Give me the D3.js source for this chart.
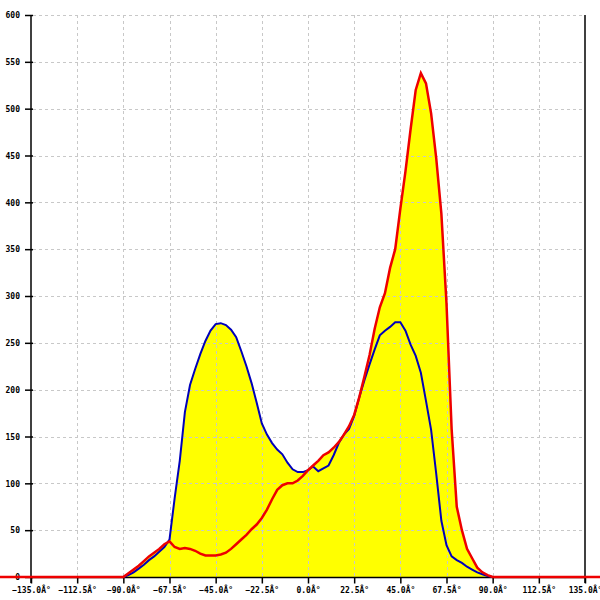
<!DOCTYPE html>
<html>
<head>
<meta charset="utf-8">
<script src="https://cdn.jsdelivr.net/npm/d3@7"></script>
<style>
  html, body { margin: 0; padding: 0; background: #fff; }
  svg { display: block; }
  text { font-family: "DejaVu Sans Mono", monospace; font-size: 8px; font-weight: bold; fill: #000; }
</style>
</head>
<body>
<script>
// angles (degrees) at which the two series were sampled
const angles = [-90,-87.5,-85,-82.5,-80,-77.5,-75,-72.5,-70,-67.5,-65,-62.5,-60,-57.5,-55,-52.5,-50,-47.5,-45,-42.5,-40,-37.5,-35,-32.5,-30,-27.5,-25,-22.5,-20,-17.5,-15,-12.5,-10,-7.5,-5,-2.5,0,2.5,5,7.5,10,12.5,15,17.5,20,22.5,25,27.5,30,32.5,35,37.5,40,42.5,45,47.5,50,52.5,55,57.5,60,62.5,65,67.5,70,72.5,75,77.5,80,82.5,85,87.5,90];

const blueValues = [0,2,5,9,13,18,22,27,32,40,84,124,176,205,222,238,252,263,270,271,269,264,256,241,225,207,186,164,152,143,136,131,122,115,112,112,114,118,113,116,119,130,143,152,158,172,192,210,227,243,258,263,267,272,272,263,248,236,218,188,157,110,60,34,22,18,15,11,8,5,3,1,0];

const redValues = [0,4,8,12,17,22,26,30,35,38,32,30,31,30,28,25,23,23,23,24,26,30,35,40,45,51,56,63,72,83,93,98,100,100,103,108,114,119,124,130,133,138,144,152,161,173,192,214,237,265,288,303,330,350,393,433,478,520,538,527,495,447,388,292,158,75,50,30,20,10,5,2,0];

// red series continues at zero beyond the sampled range
const redLeadAngle = -180, redTailAngle = 180;

const xTicks = [-135,-112.5,-90,-67.5,-45,-22.5,0,22.5,45,67.5,90,112.5,135];
const yTicks = [0,50,100,150,200,250,300,350,400,450,500,550,600];

const W = 600, H = 600;
const svg = d3.select("body").append("svg").attr("width", W).attr("height", H);

const x = d3.scaleLinear().domain([-135, 135]).range([31, 585]);
const y = d3.scaleLinear().domain([0, 600]).range([577, 15]);

const blue = angles.map((a, i) => [a, blueValues[i]]);
const red = [[redLeadAngle, 0]].concat(angles.map((a, i) => [a, redValues[i]]), [[redTailAngle, 0]]);

const area = d3.area().x(d => x(d[0])).y0(y(0)).y1(d => y(d[1]));
const line = d3.line().x(d => x(d[0])).y(d => y(d[1]));

// filled areas
svg.append("path").datum(blue).attr("d", area).attr("fill", "#ffff00");
svg.append("path").datum(red).attr("d", area).attr("fill", "#ffff00");

// grid
const grid = svg.append("g").attr("stroke", "#c8c8c8").attr("stroke-dasharray", "3,3").attr("stroke-width", 1);
grid.selectAll("line.h").data(yTicks.filter(t => t > 0)).join("line")
  .attr("x1", 33).attr("x2", 583)
  .attr("y1", d => Math.round(y(d)) + 0.5).attr("y2", d => Math.round(y(d)) + 0.5);
grid.selectAll("line.v").data(xTicks.filter(t => t > -135 && t < 135)).join("line")
  .attr("y1", 15).attr("y2", 577)
  .attr("x1", d => Math.round(x(d)) + 0.5).attr("x2", d => Math.round(x(d)) + 0.5);

// y axis (left)
const yAxis = d3.axisLeft(y).tickValues(yTicks).tickSize(6).tickFormat(d3.format("d"));
const gy = svg.append("g").attr("transform", "translate(31,0)").call(yAxis);
gy.select(".domain").remove();
gy.append("line").attr("x1", 0).attr("x2", 0).attr("y1", 15).attr("y2", 583).attr("stroke", "#000").attr("stroke-width", 1.5);
gy.selectAll(".tick line").attr("x1", 2).attr("stroke", "#000").attr("stroke-width", 1.5);
gy.selectAll(".tick text").attr("x", -11).attr("dy", "0.35em").style("font-family", "DejaVu Sans Mono").style("font-size", "8px").style("font-weight", "bold");

// right boundary line
svg.append("line").attr("x1", 585).attr("x2", 585).attr("y1", 15).attr("y2", 583).attr("stroke", "#000").attr("stroke-width", 1.5);

// x axis
const xAxis = d3.axisBottom(x).tickValues(xTicks).tickSize(6).tickFormat(d => d3.format(".1f")(d) + "Â°");
const gx = svg.append("g").attr("transform", "translate(0,577.5)").call(xAxis);
gx.select(".domain").attr("stroke", "#000").attr("stroke-width", 1.5).attr("d", `M${x(-135)},0H${x(135)}`);
gx.selectAll(".tick line").attr("stroke", "#000").attr("stroke-width", 1.5);
gx.selectAll(".tick text").attr("y", 10).attr("dy", "0.71em").style("font-family", "DejaVu Sans Mono").style("font-size", "8px").style("font-weight", "bold");

// lines
svg.append("path").datum(blue).attr("d", line).attr("fill", "none").attr("stroke", "#0000bb").attr("stroke-width", 2);
svg.append("path").datum(red).attr("d", line).attr("fill", "none").attr("stroke", "#ee0000").attr("stroke-width", 2.5);
</script>
</body>
</html>
